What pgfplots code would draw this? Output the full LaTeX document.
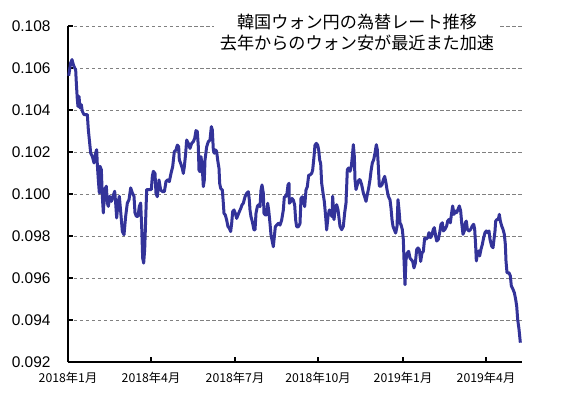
\documentclass[border=0pt]{standalone}
\usepackage{fontspec}
\setmainfont{Liberation Sans}
\newfontfamily\cjk{Noto Sans CJK JP}
\usepackage{pgfplots}
\pgfplotsset{compat=1.18}
\definecolor{series}{RGB}{51,51,153}
\definecolor{gridgray}{RGB}{128,128,128}
\begin{document}
\begin{tikzpicture}
\begin{axis}[
  scale only axis, width=454bp, height=336bp,
  xmin=0, xmax=454, ymin=0.092, ymax=0.108,
  axis lines=left,
  axis line style={-, line width=1.2bp, black},
  xtick={0,83,167,250,335,418},
  xticklabels={2018年1月,2018年4月,2018年7月,2018年10月,2019年1月,2019年4月},
  ytick={0.092,0.094,0.096,0.098,0.100,0.102,0.104,0.106,0.108},
  /pgf/number format/assume math mode=true,
  yticklabel={\pgfmathprintnumber[fixed,fixed zerofill,precision=3]{\tick}},
  yticklabel style={font=\fontsize{15.5}{18}\selectfont, xshift=-14bp},
  xticklabel style={font=\cjk\fontsize{12.3}{14}\selectfont, yshift=-7bp},
  tick align=inside,
  major tick length=5bp,
  tick style={black, line width=1.2bp},
  ymajorgrids,
  grid style={gridgray, line width=0.9bp, dash pattern=on 3.5bp off 2.5bp},
  scaled y ticks=false,
  clip=false,
]
\addplot[series, line width=3bp, line join=round] coordinates {
(0.67,0.10563) (2.67,0.10624) (4,0.10640) (5.33,0.10616) (6.67,0.10600) (7.67,0.10592)
(8.33,0.10529) (9.33,0.10449) (10,0.10417) (11,0.10465) (12,0.10410) (13.33,0.10425)
(14.33,0.10394) (16,0.10378) (17.67,0.10378) (19.33,0.10378) (20.33,0.10306) (21.67,0.10243)
(22.67,0.10195) (24.33,0.10179) (26,0.10148) (27.67,0.10195) (28.67,0.10211) (29.33,0.10140)
(30.33,0.10068) (31.33,0.10005) (32,0.10132) (33.33,0.10116) (34.33,0.09989) (35.33,0.09910)
(36.67,0.10021) (38.33,0.10037) (39.33,0.09957) (40.33,0.09941) (41.67,0.09989) (43.33,0.09965)
(45,0.09989) (46.67,0.10013) (47.67,0.09957) (48.67,0.09886) (50,0.09957) (51.33,0.09989)
(52.67,0.09917) (54.33,0.09822) (56,0.09806) (57.67,0.09894) (59.33,0.09957) (61,0.09973)
(62.67,0.10029) (64.33,0.10005) (66,0.09989) (67,0.09910) (68.33,0.09894) (70,0.09894)
(71.33,0.09941) (72.67,0.09957) (73.67,0.09846) (74.67,0.09695) (75.67,0.09671) (76.67,0.09735)
(77.67,0.09878) (78.67,0.10021) (80,0.10021) (82,0.10021) (83.33,0.10021) (84.33,0.10084)
(85.33,0.10108) (87,0.10098) (88,0.10003) (89.33,0.09987) (91,0.10067) (92.67,0.10019)
(94.67,0.10011) (96.33,0.10011) (98,0.10059) (99.67,0.10067) (101.33,0.10059) (103,0.10098)
(104.67,0.10130) (106.33,0.10202) (108,0.10210) (109.33,0.10233) (110.67,0.10225) (111.33,0.10162)
(112.67,0.10146) (114.33,0.10122) (115.33,0.10098) (116.33,0.10130) (117.67,0.10194) (118.67,0.10257)
(120.33,0.10241) (122,0.10217) (123.67,0.10241) (125.33,0.10249) (126.67,0.10265) (128,0.10302)
(129.33,0.10297) (130.33,0.10225) (131,0.10114) (132,0.10106) (133,0.10178) (134.33,0.10122)
(135.33,0.10035) (136.33,0.10067) (137,0.10162) (138.67,0.10225) (140.33,0.10249) (142,0.10257)
(143.33,0.10321) (144.33,0.10305) (145.33,0.10210) (146.33,0.10194) (147.67,0.10210) (148.67,0.10202)
(149.67,0.10162) (151,0.10122) (151.67,0.10051) (152.67,0.10027) (154.33,0.10019) (155.33,0.09956)
(156,0.09908) (157.33,0.09900) (158.67,0.09876) (160,0.09844) (161.33,0.09837) (162.67,0.09821)
(163.67,0.09860) (164.67,0.09916) (166,0.09924) (167.33,0.09908) (168.67,0.09884) (170,0.09900)
(171.33,0.09916) (172.67,0.09930) (174,0.09948) (175.33,0.09956) (177,0.09987) (178.67,0.10003)
(180.33,0.10011) (181.33,0.09971) (182,0.09924) (183,0.09892) (184.33,0.09868) (186,0.09829)
(187,0.09829) (188,0.09908) (189.33,0.09940) (190.33,0.09948) (192,0.09940) (193,0.10019)
(194,0.10043) (195.33,0.10003) (196,0.09908) (197.33,0.09900) (198.67,0.09900) (199.67,0.09956)
(200.67,0.09924) (202,0.09860) (203,0.09805) (204.33,0.09773) (205.33,0.09749) (206.33,0.09797)
(207.33,0.09844) (208.67,0.09852) (210.33,0.09860) (212,0.09852) (213.67,0.09876) (215.33,0.09924)
(216.33,0.09987) (217.67,0.09987) (219,0.10003) (220,0.10043) (221,0.10051) (221.33,0.09956)
(222.67,0.09964) (224,0.09979) (225.33,0.09971) (226.67,0.09948) (227.67,0.09876) (228.67,0.09844)
(230.33,0.09844) (232,0.09860) (233,0.09979) (234.33,0.09987) (235.33,0.09971) (236.67,0.09940)
(238,0.10019) (239.33,0.10035) (240.67,0.10090) (242,0.10090) (243.67,0.10098) (244.67,0.10114)
(246,0.10178) (247,0.10233) (248.33,0.10241) (249.67,0.10233) (250.67,0.10210) (251.67,0.10162)
(252.67,0.10146) (253.67,0.10051) (255.33,0.09995) (256.33,0.09964) (257.67,0.09892) (258.67,0.09829)
(260,0.09892) (261.33,0.09924) (262.67,0.09908) (264,0.09892) (264.67,0.09989) (266,0.09878)
(267.33,0.09933) (268.67,0.09949) (270,0.09925) (271,0.09886) (272,0.09846) (273.67,0.09830)
(275.33,0.09846) (276.67,0.09910) (278,0.09957) (278.67,0.10037) (279.33,0.10116) (280.67,0.10124)
(282,0.10108) (283.33,0.10132) (284.33,0.10179) (285.33,0.10235) (286.33,0.10179) (287,0.10068)
(288,0.10021) (289.33,0.10044) (291,0.10068) (292,0.10068) (293.67,0.10044) (295.33,0.10005)
(297,0.09981) (298,0.09965) (299.33,0.09997) (300.67,0.10029) (302,0.10068) (303,0.10108)
(304.33,0.10148) (305.67,0.10163) (307,0.10195) (308.33,0.10235) (309.33,0.10211) (310.33,0.10132)
(311.33,0.10037) (312.67,0.10037) (314,0.10044) (315.33,0.10068) (316.67,0.10084) (318,0.10052)
(319,0.10021) (320.33,0.09989) (322,0.09973) (323,0.09933) (324,0.09878) (325,0.09846)
(326.33,0.09830) (327.67,0.09814) (329,0.09846) (330,0.09973) (331,0.09925) (332,0.09862)
(333,0.09854) (334.33,0.09830) (335.33,0.09783) (336,0.09687) (337,0.09568) (338,0.09687)
(339.33,0.09719) (340.67,0.09727) (342,0.09695) (343.33,0.09687) (344.67,0.09679) (346,0.09648)
(347.33,0.09671) (348.67,0.09735) (350,0.09743) (351.33,0.09735) (352.67,0.09679) (354,0.09719)
(355.33,0.09727) (356.67,0.09790) (358,0.09784) (359.67,0.09792) (361,0.09816) (362.33,0.09792)
(363.67,0.09800) (365.33,0.09832) (366.33,0.09840) (367.67,0.09800) (368.67,0.09776) (370.33,0.09784)
(371.67,0.09816) (373,0.09856) (374.33,0.09863) (375.33,0.09824) (377,0.09832) (378.67,0.09848)
(379.67,0.09871) (381,0.09879) (382.33,0.09863) (383.67,0.09911) (384.67,0.09943) (386,0.09903)
(387.33,0.09919) (388.67,0.09911) (390,0.09927) (391.33,0.09943) (392.67,0.09919) (393.67,0.09863)
(395,0.09808) (396.33,0.09824) (397.33,0.09863) (398.33,0.09871) (399.33,0.09832) (401,0.09824)
(402.67,0.09832) (404.33,0.09848) (405.67,0.09856) (406.67,0.09832) (407.67,0.09752) (408.33,0.09681)
(409.33,0.09713) (410.67,0.09729) (411.67,0.09705) (413,0.09737) (414.33,0.09760) (415.67,0.09792)
(417,0.09816) (418.33,0.09824) (419.67,0.09816) (421,0.09824) (422,0.09784) (423.67,0.09752)
(425,0.09744) (426,0.09784) (427,0.09824) (427.67,0.09871) (429,0.09879) (430.33,0.09879)
(431.33,0.09903) (432.33,0.09871) (433.67,0.09848) (435,0.09832) (436.33,0.09808) (437.33,0.09760)
(438,0.09681) (439,0.09625) (441,0.09625) (442.33,0.09610) (443.33,0.09562) (445,0.09546)
(446.33,0.09530) (447.67,0.09498) (448.67,0.09467) (449.67,0.09403) (451,0.09356) (452.33,0.09292)
};
\fill[white] (axis cs:146,0.10662) rectangle (axis cs:431,0.10815);
\node[anchor=base, inner sep=0pt, font=\cjk\fontsize{17.2}{21}\selectfont]
  at (axis cs:289,0.10790) {韓国ウォン円の為替レート推移};
\node[anchor=base, inner sep=0pt, font=\cjk\fontsize{17.2}{21}\selectfont]
  at (axis cs:289,0.10690) {去年からのウォン安が最近また加速};
\coordinate (ll) at (rel axis cs:0,0);
\end{axis}
\pgfresetboundingbox
\path[use as bounding box] (ll) ++(-68bp,-34bp) rectangle ++(563bp,396bp);
\end{tikzpicture}
\end{document}
